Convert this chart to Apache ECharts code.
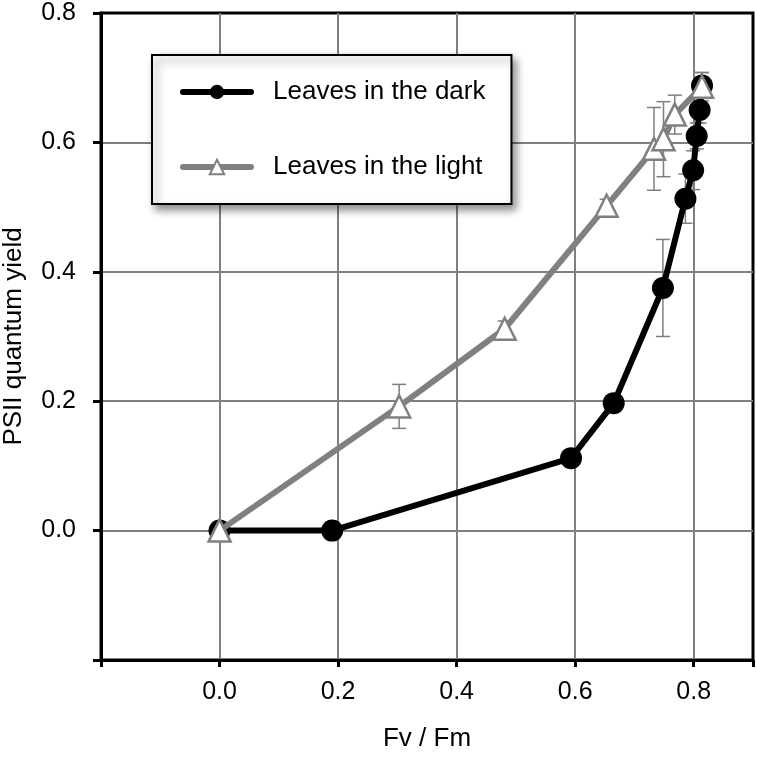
<!DOCTYPE html>
<html>
<head>
<meta charset="utf-8">
<script src="https://cdn.jsdelivr.net/npm/echarts@6/dist/echarts.min.js"></script>
<style>
  html, body { margin: 0; padding: 0; background: #fff; }
  #chart { width: 757px; height: 758px; }
</style>
</head>
<body>
<div id="chart"></div>
<script>
// series
var darkX = [0.0, 0.19, 0.593, 0.665, 0.748, 0.786, 0.799, 0.805, 0.810, 0.814];
var darkY = [0.0, 0.0, 0.112, 0.197, 0.375, 0.513, 0.557, 0.610, 0.650, 0.688];
var darkErr = [0, 0, 0, 0, 0.075, 0.038, 0.03, 0.02, 0.02, 0.02];

var lightX = [0.0, 0.303, 0.481, 0.653, 0.733, 0.749, 0.768, 0.814];
var lightY = [0.0, 0.192, 0.312, 0.502, 0.590, 0.605, 0.643, 0.686];
var lightErr = [0, 0.034, 0.012, 0.01, 0.064, 0.058, 0.03, 0.022];

var seriesNames = ['Leaves in the dark', 'Leaves in the light'];
var xTitle = 'Fv / Fm';
var yTitle = 'PSII quantum yield';

var FONT = '"Liberation Sans", Arial, sans-serif';

function pairs(xs, ys) {
    return xs.map(function (x, i) { return [x, ys[i]]; });
}
function triples(xs, ys, es) {
    return xs.map(function (x, i) { return [x, ys[i], es[i]]; });
}

// vertical error bar with caps
function errorBar(params, api) {
    var e = api.value(2);
    if (!e) {
        return;
    }
    var x = api.value(0), y = api.value(1);
    var top = api.coord([x, y + e]);
    var bot = api.coord([x, y - e]);
    var half = 7;
    var style = { stroke: '#7f7f7f', lineWidth: 1.5 };
    return {
        type: 'group',
        children: [
            { type: 'line', shape: { x1: top[0], y1: top[1], x2: bot[0], y2: bot[1] }, style: style },
            { type: 'line', shape: { x1: top[0] - half, y1: top[1], x2: top[0] + half, y2: top[1] }, style: style },
            { type: 'line', shape: { x1: bot[0] - half, y1: bot[1], x2: bot[0] + half, y2: bot[1] }, style: style }
        ]
    };
}

function tickFmt(v) {
    if (v < -0.01 || v > 0.85) {
        return '';
    }
    return v.toFixed(1);
}

var chart = echarts.init(document.getElementById('chart'));
var option = {
    animation: false,
    backgroundColor: '#fff',
    textStyle: { fontFamily: FONT },
    grid: {
        left: 101,
        right: 4,
        top: 13,
        bottom: 98,
        show: true,
        borderColor: '#000',
        borderWidth: 3,
        outerBoundsMode: 'none'
    },
    legend: {
        data: seriesNames,
        orient: 'vertical',
        left: 152,
        top: 55,
        padding: [24, 26, 24, 28],
        itemGap: 49,
        itemWidth: 68,
        itemHeight: 18,
        backgroundColor: '#fff',
        borderColor: '#000',
        borderWidth: 2,
        shadowColor: 'rgba(0,0,0,0.45)',
        shadowBlur: 8,
        shadowOffsetX: 4,
        shadowOffsetY: 5,
        lineStyle: { width: 6, cap: 'round' },
        textStyle: {
            fontFamily: FONT,
            fontSize: 26,
            color: '#000',
            padding: [0, 0, 0, 17]
        }
    },
    xAxis: {
        type: 'value',
        min: -0.2,
        max: 0.9,
        interval: 0.2,
        name: xTitle,
        nameLocation: 'middle',
        nameGap: 66,
        nameTextStyle: { fontFamily: FONT, fontSize: 26, color: '#000' },
        axisLine: { show: true, onZero: false, lineStyle: { color: '#000', width: 3 } },
        axisTick: { show: true, inside: false, length: 7, lineStyle: { color: '#000', width: 3 } },
        axisLabel: { formatter: tickFmt, fontFamily: FONT, fontSize: 25, color: '#000', margin: 20 },
        splitLine: { show: true, showMinLine: false, showMaxLine: false, lineStyle: { color: '#7f7f7f', width: 2 } }
    },
    yAxis: {
        type: 'value',
        min: -0.2,
        max: 0.8,
        interval: 0.2,
        name: yTitle,
        nameLocation: 'middle',
        nameRotate: 90,
        nameGap: 74,
        nameTextStyle: { fontFamily: FONT, fontSize: 26, color: '#000' },
        axisLine: { show: true, onZero: false, lineStyle: { color: '#000', width: 3 } },
        axisTick: { show: true, inside: false, length: 8, lineStyle: { color: '#000', width: 3 } },
        axisLabel: { formatter: tickFmt, fontFamily: FONT, fontSize: 25, color: '#000', margin: 25 },
        splitLine: { show: true, showMinLine: false, showMaxLine: false, lineStyle: { color: '#7f7f7f', width: 2 } }
    },
    series: [
        {
            type: 'custom',
            name: 'dark error',
            renderItem: errorBar,
            data: triples(darkX, darkY, darkErr),
            z: 1,
            silent: true
        },
        {
            type: 'custom',
            name: 'light error',
            renderItem: errorBar,
            data: triples(lightX, lightY, lightErr),
            z: 1,
            silent: true
        },
        {
            name: seriesNames[0],
            type: 'line',
            data: pairs(darkX, darkY),
            symbol: 'circle',
            symbolSize: 22,
            lineStyle: { color: '#000', width: 6 },
            itemStyle: { color: '#000' },
            z: 3
        },
        {
            name: seriesNames[1],
            type: 'line',
            data: pairs(lightX, lightY),
            symbol: 'triangle',
            symbolSize: 22,
            lineStyle: { color: '#808080', width: 6 },
            itemStyle: { color: '#fff', borderColor: '#808080', borderWidth: 2.5 },
            z: 4
        }
    ]
};
chart.setOption(option);
</script>
</body>
</html>
